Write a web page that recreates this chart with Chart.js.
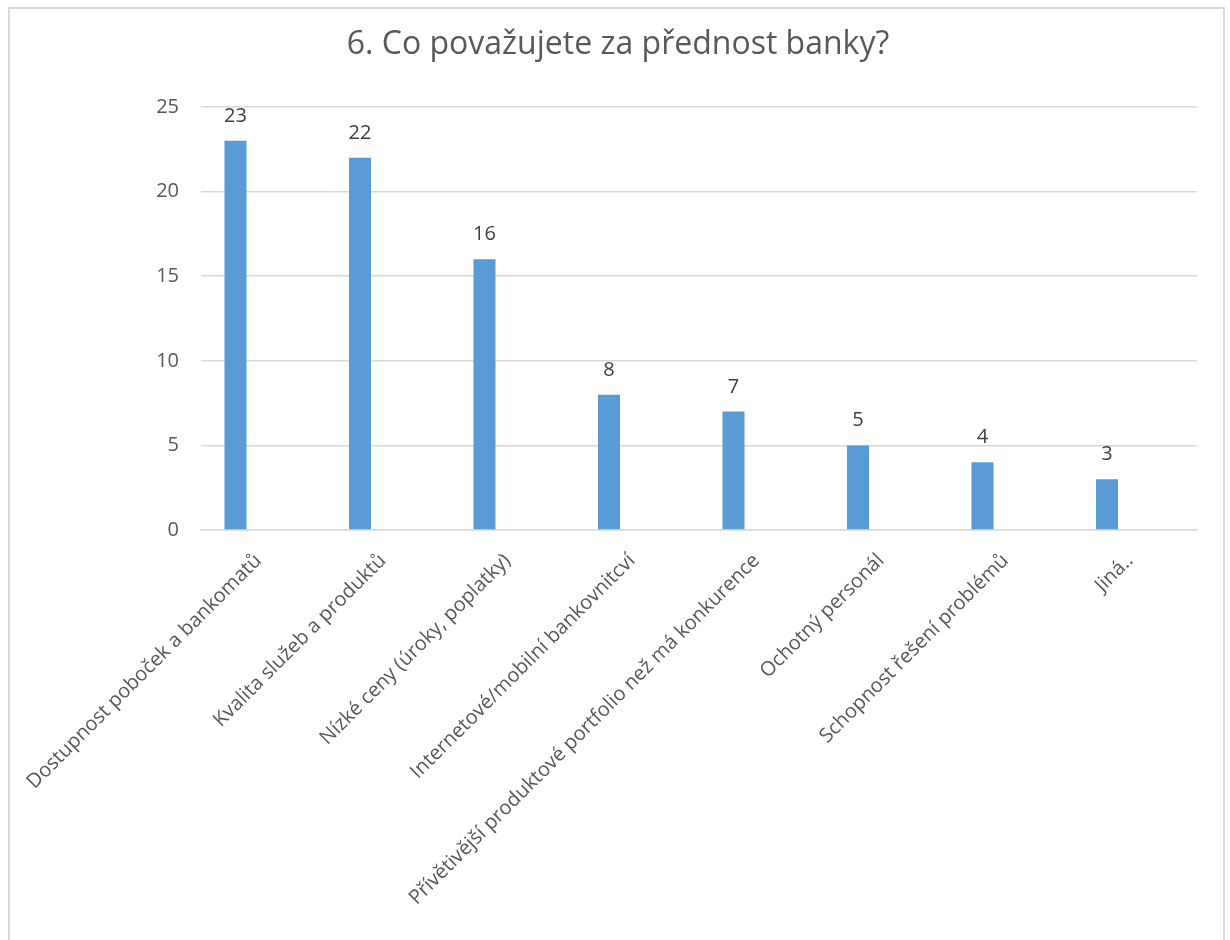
<!DOCTYPE html>
<html>
<head>
<meta charset="utf-8">
<script src="https://cdn.jsdelivr.net/npm/chart.js@4/dist/chart.umd.min.js"></script>
<style>
  html, body { margin: 0; padding: 0; background: #fff; overflow: hidden; }
  #frame { position: absolute; left: 8px; top: 7px; width: 1213px; height: 960px; border: 2px solid #d9d9d9; }
  #wrap { position: absolute; left: 0; top: 0; width: 1230px; height: 940px; }
</style>
</head>
<body>
<div id="frame"></div>
<div id="wrap"><canvas id="chart" width="1230" height="940"></canvas></div>
<script>
'use strict';

// **** Data ****
let categories = [
  'Dostupnost poboček a bankomatů',
  'Kvalita služeb a produktů',
  'Nízké ceny (úroky, poplatky)',
  'Internetové/mobilní bankovnitcví',
  'Přívětivější produktové portfolio než má konkurence',
  'Ochotný personál',
  'Schopnost řešení problémů',
  'Jiná..'
];
let answers = [23, 22, 16, 8, 7, 5, 4, 3];
let yTicks = [0, 5, 10, 15, 20, 25];

let chartTitle = '6. Co považujete za přednost banky?';

// bars sit on a numeric x axis so the category slots can be nudged left
let xMin = -0.277;
let xMax = xMin + categories.length;

// **** Plugin: value above each bar ****
let valueLabels = {
  id: 'valueLabels',
  afterDatasetsDraw(chart){
    let ctx = chart.ctx;
    let meta = chart.getDatasetMeta(0);
    ctx.save();
    ctx.font = '20px "Open Sans"';
    ctx.fillStyle = '#404040';
    ctx.textAlign = 'center';
    ctx.textBaseline = 'alphabetic';
    meta.data.forEach((bar, i) => {
      ctx.fillText(String(answers[i]), bar.x, bar.y - 19);
    });
    ctx.restore();
  }
};

let chartCanvas = document.getElementById('chart');

new Chart(chartCanvas, {
  type: 'bar',
  data: {
    datasets: [{
      data: answers.map((v, i) => ({ x: i, y: v })),
      backgroundColor: '#5b9bd5',
      barPercentage: 0.177,
      categoryPercentage: 1
    }]
  },
  options: {
    responsive: false,
    animation: false,
    layout: { padding: { left: 39, right: 33, top: 0, bottom: 0 } },
    plugins: {
      legend: { display: false },
      tooltip: { enabled: false },
      title: {
        display: true,
        text: chartTitle,
        color: '#595959',
        font: { family: 'Open Sans', size: 32, weight: 'normal' },
        padding: { top: 26, bottom: 42.6 }
      }
    },
    scales: {
      y: {
        min: 0,
        max: 25,
        afterBuildTicks(scale){
          scale.ticks = yTicks.map(v => ({ value: v }));
        },
        afterFit(scale){ scale.width = 162; },
        border: { display: false },
        grid: { color: '#d9d9d9', lineWidth: 1.5, drawTicks: false },
        ticks: {
          color: '#595959',
          padding: 22,
          font: { family: 'Open Sans', size: 20 }
        }
      },
      x: {
        type: 'linear',
        min: xMin,
        max: xMax,
        offset: false,
        afterBuildTicks(scale){
          scale.ticks = categories.map((c, i) => ({ value: i }));
        },
        afterFit(scale){
          // the long rotated labels may run past the plot edge
          scale.height = 410;
          scale.paddingLeft = 0;
          scale.paddingRight = 0;
        },
        border: { color: '#d9d9d9', width: 1.5 },
        grid: { display: false, offset: false },
        ticks: {
          color: '#595959',
          minRotation: 45,
          maxRotation: 45,
          labelOffset: 23,
          padding: 11,
          autoSkip: false,
          callback: (value) => categories[value],
          font: { family: 'Open Sans', size: 20 }
        }
      }
    }
  },
  plugins: [valueLabels]
});
</script>
</body>
</html>
